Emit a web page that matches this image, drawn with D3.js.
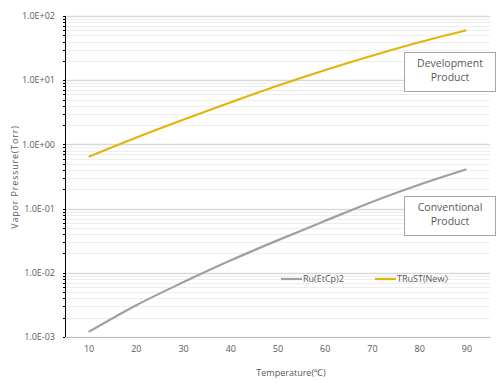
<!DOCTYPE html>
<html>
<head>
<meta charset="utf-8">
<script src="https://cdn.jsdelivr.net/npm/d3@7"></script>
<style>
  body { margin: 0; background: #fff; }
  text { font-family: "Open Sans", "Noto Sans", "Noto Sans CJK JP", sans-serif; fill: #595959; }
</style>
</head>
<body>
<script>
// temperatures (deg C)
var temps = [10, 20, 30, 40, 50, 60, 70, 80, 90];
// vapor pressure (Torr)
var ruEtCp2 = [0.0012, 0.0031, 0.0071, 0.0155, 0.032, 0.064, 0.127, 0.235, 0.41];
var trust = [0.64, 1.27, 2.42, 4.5, 8.2, 14.3, 24, 39, 60];
var yTickLabels = ["1.0E-03", "1.0E-02", "1.0E-01", "1.0E+00", "1.0E+01", "1.0E+02"];
var seriesNames = ["Ru(EtCp)2", "TRuST(New〉"];
var seriesColors = ["#a0a0a0", "#e2b40c"];

var width = 500, height = 385;
var margin = {left: 65, right: 10, top: 16, bottom: 48};

var svg = d3.select("body").append("svg")
    .attr("width", width)
    .attr("height", height);

var x = d3.scaleLinear()
    .domain([5, 95])
    .range([margin.left, width - margin.right]);

var y = d3.scaleLog()
    .domain([1e-3, 1e2])
    .range([height - margin.bottom, margin.top]);

//minor and major gridlines
var minor = [];
for (var e = -3; e < 2; e++) {
    for (var m = 2; m <= 9; m++) minor.push(m * Math.pow(10, e));
}
var major = yTickLabels.map(function(d){ return +d; });

svg.append("g").selectAll("line")
    .data(minor)
    .enter().append("line")
    .attr("x1", x(5)).attr("x2", x(95))
    .attr("y1", function(d){ return Math.round(y(d)) + 0.5; })
    .attr("y2", function(d){ return Math.round(y(d)) + 0.5; })
    .attr("stroke", "#eeeeee");

svg.append("g").selectAll("line")
    .data(major)
    .enter().append("line")
    .attr("x1", x(5)).attr("x2", x(95))
    .attr("y1", function(d){ return Math.round(y(d)) + 0.5; })
    .attr("y2", function(d){ return Math.round(y(d)) + 0.5; })
    .attr("stroke", "#d9d9d9")
    .attr("stroke-width", 1.5);

//y axis with minor ticks
var yAxis = svg.append("g")
    .attr("transform", "translate(" + margin.left + ",0)");
yAxis.append("line")
    .attr("x1", 0.5).attr("x2", 0.5)
    .attr("y1", y(1e2)).attr("y2", y(1e-3))
    .attr("stroke", "#000");
yAxis.selectAll(".tk")
    .data(minor.concat(major))
    .enter().append("line")
    .attr("x1", -2).attr("x2", 0)
    .attr("y1", function(d){ return Math.round(y(d)) + 0.5; })
    .attr("y2", function(d){ return Math.round(y(d)) + 0.5; })
    .attr("stroke", "#000");
yAxis.selectAll("text")
    .data(major)
    .enter().append("text")
    .attr("x", -10)
    .attr("y", function(d){ return y(d); })
    .attr("dy", "0.35em")
    .attr("text-anchor", "end")
    .attr("font-size", 9)
    .text(function(d, i){ return yTickLabels[i]; });

//x axis
var xAxis = d3.axisBottom(x).tickValues(temps).tickSize(0).tickPadding(9);
var gx = svg.append("g")
    .attr("transform", "translate(0," + (height - margin.bottom) + ")")
    .call(xAxis);
gx.select(".domain").attr("stroke", "#bfbfbf");
gx.selectAll("text")
    .attr("font-size", 9)
    .attr("font-family", "Open Sans, sans-serif")
    .attr("fill", "#595959");

//axis titles
svg.append("text")
    .attr("x", 291).attr("y", 376)
    .attr("text-anchor", "middle")
    .attr("font-size", 9)
    .text("Temperature(℃)");

svg.append("text")
    .attr("transform", "translate(18,177) rotate(-90)")
    .attr("text-anchor", "middle")
    .attr("font-size", 9)
    .attr("letter-spacing", 0.8)
    .text("Vapor Pressure(Torr)");

//lines
var line = d3.line()
    .x(function(d){ return x(d[0]); })
    .y(function(d){ return y(d[1]); })
    .curve(d3.curveMonotoneX);

[ruEtCp2, trust].forEach(function(vals, i){
    svg.append("path")
        .datum(temps.map(function(t, j){ return [t, vals[j]]; }))
        .attr("d", line)
        .attr("fill", "none")
        .attr("stroke", seriesColors[i])
        .attr("stroke-width", 2.2);
});

//annotation boxes
var notes = [
    {lines: ["Development", "Product"], x: 404, y: 52},
    {lines: ["Conventional", "Product"], x: 404, y: 196}
];
notes.forEach(function(n){
    var g = svg.append("g").attr("transform", "translate(" + n.x + "," + n.y + ")");
    g.append("rect")
        .attr("x", 0.5).attr("y", 0.5)
        .attr("width", 91).attr("height", 39)
        .attr("fill", "#fff")
        .attr("stroke", "#a6a6a6");
    g.selectAll("text")
        .data(n.lines)
        .enter().append("text")
        .attr("x", 46).attr("y", function(d, i){ return 15 + i * 14; })
        .attr("text-anchor", "middle")
        .attr("font-size", 10.5)
        .attr("fill", "#222")
        .text(function(d){ return d; });
});

//legend
var legX = [281, 375];
seriesNames.forEach(function(name, i){
    var g = svg.append("g").attr("transform", "translate(" + legX[i] + ",279)");
    g.append("line")
        .attr("x1", 0).attr("x2", 21)
        .attr("stroke", seriesColors[i])
        .attr("stroke-width", 2.2);
    g.append("text")
        .attr("x", 22).attr("dy", "0.35em")
        .attr("font-size", 9)
        .text(name);
});
</script>
</body>
</html>
